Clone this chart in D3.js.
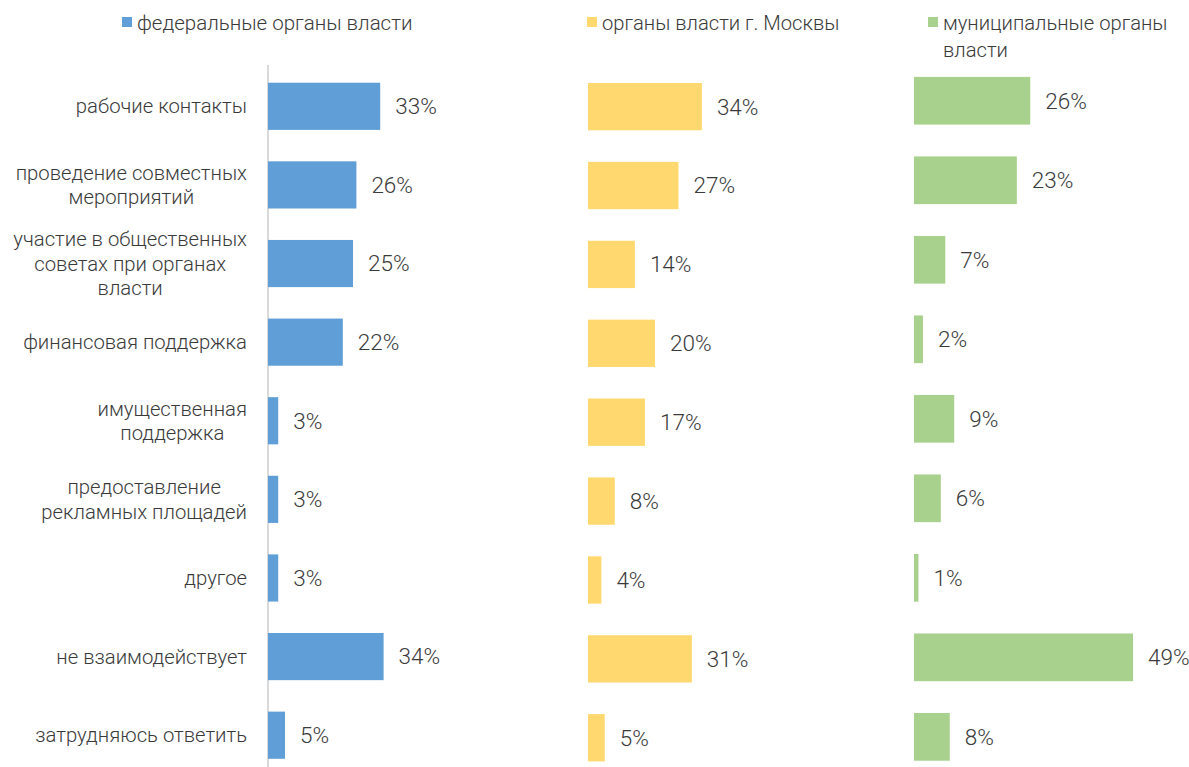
<!DOCTYPE html>
<html>
<head>
<meta charset="utf-8">
<script src="https://cdn.jsdelivr.net/npm/d3@7"></script>
<style>
  body { margin: 0; background: #fff; }
  svg text { font-family: Roboto, "Liberation Sans", sans-serif; font-weight: 300; fill: #3a3a3a; }
</style>
</head>
<body>
<div id="chart"></div>
<script>
var categories = [
  ["рабочие контакты"],
  ["проведение совместных", "мероприятий"],
  ["участие в общественных", "советах при органах", "власти"],
  ["финансовая поддержка"],
  ["имущественная", "поддержка"],
  ["предоставление", "рекламных площадей"],
  ["другое"],
  ["не взаимодействует"],
  ["затрудняюсь ответить"]
];
var federal   = [33, 26, 25, 22, 3, 3, 3, 34, 5];
var moscow    = [34, 27, 14, 20, 17, 8, 4, 31, 5];
var municipal = [26, 23, 7, 2, 9, 6, 1, 49, 8];
var seriesNames = [["федеральные органы власти"], ["органы власти г. Москвы"], ["муниципальные органы", "власти"]];

var width = 1189, height = 767;
var svg = d3.select("#chart").append("svg")
    .attr("width", width)
    .attr("height", height);

var keys = d3.range(categories.length);

// one panel per series, each with its own scale like the original
var panels = [
  {values: federal,   color: "#5f9ed6", x0: 268, pxPer: 3.40, y: [67, 774.5],  lx: 122, fs: "20.5px"},
  {values: moscow,    color: "#ffd96f", x0: 588, pxPer: 3.35, y: [67.2, 777.2], lx: 587, fs: "20.2px"},
  {values: municipal, color: "#a9d18e", x0: 914, pxPer: 4.47, y: [61, 776.6],  lx: 928, fs: "20.2px"}
];

// axis line on the left panel
svg.append("line")
    .attr("x1", 268).attr("x2", 268)
    .attr("y1", 65).attr("y2", height)
    .attr("stroke", "#d9d9d9")
    .attr("stroke-width", 2);

panels.forEach(function(p, i) {
  var x = d3.scaleLinear().domain([0, 100]).range([p.x0, p.x0 + p.pxPer * 100]);
  var y = d3.scaleBand().domain(keys).range(p.y).paddingInner(0.4).paddingOuter(0.2);

  var g = svg.append("g").attr("class", "panel");

  g.selectAll("rect")
    .data(p.values)
    .enter().append("rect")
      .attr("x", x(0))
      .attr("y", function(d, j) { return y(j); })
      .attr("width", function(d) { return x(d) - x(0); })
      .attr("height", y.bandwidth())
      .attr("fill", p.color);

  g.selectAll("text.val")
    .data(p.values)
    .enter().append("text")
      .attr("class", "val")
      .attr("x", function(d) { return x(d) + 15; })
      .attr("y", function(d, j) { return y(j) + y.bandwidth() / 2; })
      .attr("dy", "0.35em")
      .style("font-size", "22.5px")
      .text(function(d) { return d + "%"; });

  if (i == 0) {
    // category labels, centred lines, block right-aligned at the axis
    categories.forEach(function(lines, j) {
      var cy = y(j) + y.bandwidth() / 2;
      var lg = svg.append("g").attr("class", "cat");
      var t = lg.selectAll("text").data(lines).enter().append("text")
          .style("font-size", "20.3px")
          .attr("text-anchor", "middle")
          .attr("y", function(d, k) { return cy + (k - (lines.length - 1) / 2) * 24.5; })
          .attr("dy", "0.35em")
          .text(function(d) { return d; });
      var maxW = 0;
      t.each(function() { maxW = Math.max(maxW, this.getComputedTextLength()); });
      t.attr("x", 247 - maxW / 2);
    });
  }

  // legend
  var leg = svg.append("g").attr("class", "legend");
  leg.append("rect")
      .attr("x", p.lx).attr("y", 17)
      .attr("width", 10).attr("height", 10)
      .attr("fill", p.color);
  leg.selectAll("text").data(seriesNames[i]).enter().append("text")
      .attr("x", p.lx + 15)
      .attr("y", function(d, k) { return 23 + k * 27; })
      .attr("dy", "0.35em")
      .style("font-size", p.fs)
      .text(function(d) { return d; });
});
</script>
</body>
</html>
